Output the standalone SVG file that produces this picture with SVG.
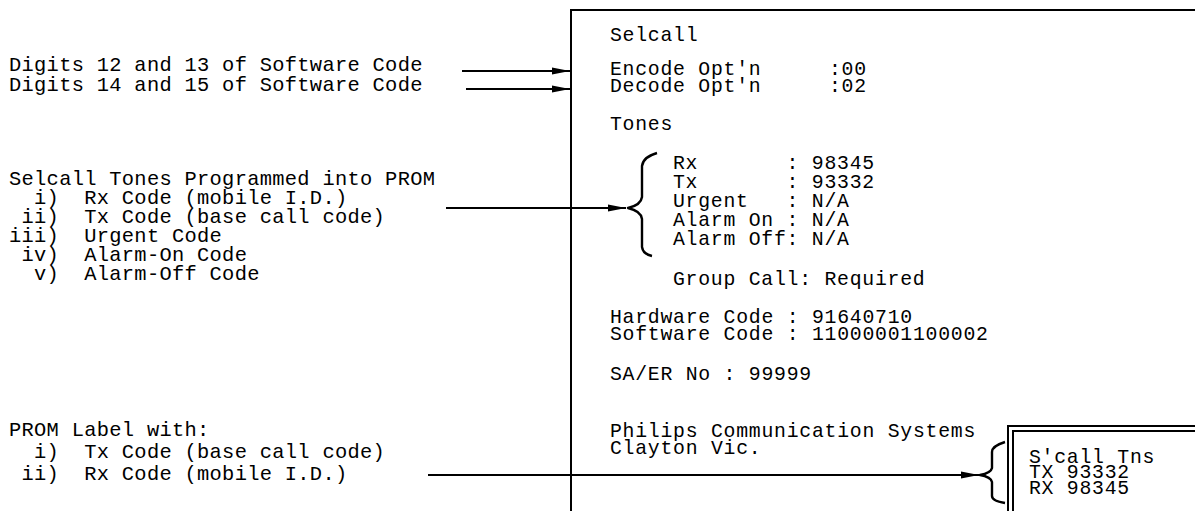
<svg xmlns="http://www.w3.org/2000/svg" width="1195" height="511" viewBox="0 0 1195 511" xml:space="preserve">
<style>
text { font-family: "Liberation Mono", "DejaVu Sans Mono", monospace; fill: #000; white-space: pre; }
.l { font-size: 20.4px; letter-spacing: 0.3px; }
.b { font-size: 19.8px; letter-spacing: 0.75px; }
.ln { stroke: #000; stroke-width: 2; fill: none; }
.br { stroke: #000; stroke-width: 2.4; fill: none; stroke-linejoin: round; }
</style>
<defs>
<marker id="ah" markerUnits="userSpaceOnUse" markerWidth="20" markerHeight="10" refX="18" refY="5" orient="auto"><path d="M0,1.5 L18,5 L0,8.5 z" fill="#000"/></marker>
</defs>
<rect x="0" y="0" width="1195" height="511" fill="#fff"/>

<g id="panel">
<path class="ln" d="M571,511 V10 H1195"/>
<text class="b" x="610" y="41">Selcall</text>
<text class="b" x="610" y="75">Encode Opt'n<tspan x="829">:00</tspan></text>
<text class="b" x="610" y="92">Decode Opt'n<tspan x="829">:02</tspan></text>
<text class="b" x="610" y="130">Tones</text>
<text class="b" x="673" y="169">Rx       : 98345</text>
<text class="b" x="673" y="188">Tx       : 93332</text>
<text class="b" x="673" y="207">Urgent   : N/A</text>
<text class="b" x="673" y="226">Alarm On : N/A</text>
<text class="b" x="673" y="245">Alarm Off: N/A</text>
<text class="b" x="673" y="285">Group Call: Required</text>
<text class="b" x="610" y="323">Hardware Code : 91640710</text>
<text class="b" x="610" y="340">Software Code : 11000001100002</text>
<text class="b" x="610" y="380">SA/ER No : 99999</text>
<text class="b" x="610" y="437">Philips Communication Systems</text>
<text class="b" x="610" y="454">Clayton Vic.</text>
</g>

<g id="prom-label">
<path class="ln" d="M1008,511 V426 H1195"/>
<path class="ln" d="M1013,511 V431 H1195"/>
<text class="b" x="1029" y="463">S'call Tns</text>
<text class="b" x="1029" y="478">TX 93332</text>
<text class="b" x="1029" y="494">RX 98345</text>
</g>

<g id="note-software-digits">
<text class="l" x="9" y="71">Digits 12 and 13 of Software Code</text>
<text class="l" x="9" y="91">Digits 14 and 15 of Software Code</text>
</g>

<g id="note-tones">
<text class="l" x="9" y="185">Selcall Tones Programmed into PROM</text>
<text class="l" x="9" y="204">  i)  Rx Code (mobile I.D.)</text>
<text class="l" x="9" y="223"> ii)  Tx Code (base call code)</text>
<text class="l" x="9" y="242">iii)  Urgent Code</text>
<text class="l" x="9" y="261"> iv)  Alarm-On Code</text>
<text class="l" x="9" y="280">  v)  Alarm-Off Code</text>
</g>

<g id="note-prom">
<text class="l" x="9" y="436">PROM Label with:</text>
<text class="l" x="9" y="458">  i)  Tx Code (base call code)</text>
<text class="l" x="9" y="480"> ii)  Rx Code (mobile I.D.)</text>
</g>

<g id="connectors">
<line class="ln" x1="462" y1="71" x2="570" y2="71" marker-end="url(#ah)"/>
<line class="ln" x1="466" y1="89" x2="570" y2="89" marker-end="url(#ah)"/>
<line class="ln" x1="446" y1="208" x2="626" y2="208" marker-end="url(#ah)"/>
<line class="ln" x1="428" y1="475" x2="979" y2="475" marker-end="url(#ah)"/>
<path class="br" d="M657,153 Q643,157 642,166 V197 Q641,205 628,208 Q641,211 642,219 V247 Q643,254 652,256"/>
<path class="br" d="M1005,442 Q992,446 992,452 V468 Q991,473 980,475 Q991,477 992,482 V496 Q992,501 1005,503"/>
</g>
</svg>
